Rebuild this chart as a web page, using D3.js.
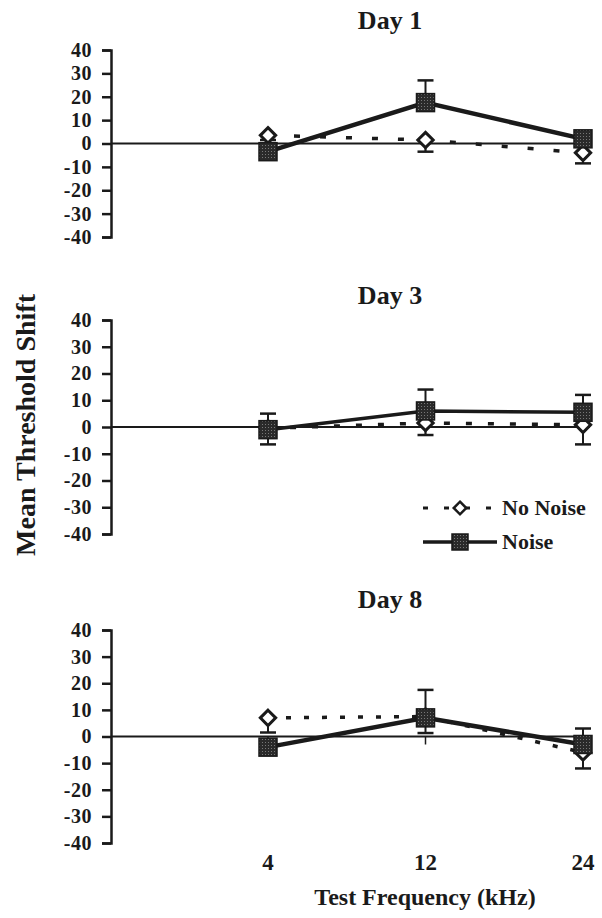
<!DOCTYPE html>
<html>
<head>
<meta charset="utf-8">
<script src="https://cdn.jsdelivr.net/npm/d3@7"></script>
<style>
  body { margin: 0; background: #fff; }
  text { font-family: "Liberation Serif", "Times New Roman", serif; font-weight: bold; fill: #1a1a1a; }
</style>
</head>
<body>
<svg width="602" height="918"></svg>
<script>
var width = 602;
var height = 918;

// data
var days = ["Day 1", "Day 3", "Day 8"];
var freqs = ["4", "12", "24"];
var yTicks = [40, 30, 20, 10, 0, -10, -20, -30, -40];

var noNoise    = [[3.5, 1.5, -4], [-0.5, 1.5, 0.8], [7, 7.5, -6]];
var noNoiseErr = [[2, 5, 4.5], [6, 4.5, 7.3], [5.5, 6.2, 6]];
var noise      = [[-3.5, 17.5, 2], [-1, 6, 5.5], [-4, 7, -3]];
var noiseErr   = [[2, 9.5, 2], [6, 8, 6.5], [2, 10.5, 6]];

// panel layout (top/bottom of the -40..40 range, title baseline, dash pattern)
var panels = [
    {top: 50,  bottom: 237, title: 29,  dash: "6,20"},
    {top: 320, bottom: 534, title: 304, dash: "6,16"},
    {top: 630, bottom: 843, title: 608, dash: "5,13"}
];

var axisX = 111;

var svg = d3.select("svg")
    .attr("width", width)
    .attr("height", height);

var defs = svg.append("defs");
var pat = defs.append("pattern")
    .attr("id", "stipple")
    .attr("width", 3).attr("height", 3)
    .attr("patternUnits", "userSpaceOnUse");
pat.append("rect").attr("width", 3).attr("height", 3).attr("fill", "#2a2a2a");
pat.append("rect").attr("x", 1).attr("y", 1).attr("width", 1).attr("height", 1).attr("fill", "#777");

var x = d3.scalePoint()
    .domain(freqs)
    .range([268, 583]);

var diamond = d3.symbol().type(d3.symbolDiamond2).size(150);

days.forEach(function(day, i){
    var p = panels[i];
    var y = d3.scaleLinear().domain([-40, 40]).range([p.bottom, p.top]);
    var g = svg.append("g").classed("panel", true);

    g.append("text")
        .attr("x", 390)
        .attr("y", p.title)
        .style("font-size", "26px")
        .style("text-anchor", "middle")
        .text(day);

    var axis = d3.axisLeft(y)
        .tickValues(yTicks)
        .tickSize(9)
        .tickPadding(10)
        .tickFormat(d => String(d));

    var ax = g.append("g")
        .attr("transform", `translate(${axisX},0)`)
        .call(axis);
    ax.select(".domain").attr("stroke", "#1a1a1a").attr("stroke-width", 2.5);
    ax.selectAll(".tick line").attr("stroke", "#1a1a1a").attr("stroke-width", 2.5);
    ax.selectAll(".tick text")
        .style("font-size", "20px")
        .style("font-family", "Liberation Serif, serif")
        .style("font-weight", "bold")
        .style("letter-spacing", "0.5px")
        .attr("fill", "#1a1a1a");

    // zero line and small category ticks
    g.append("line")
        .attr("x1", axisX).attr("x2", 590)
        .attr("y1", y(0)).attr("y2", y(0))
        .attr("stroke", "#1a1a1a").attr("stroke-width", 1.8);
    g.selectAll(".xtick")
        .data(freqs)
        .enter()
        .append("line")
            .classed("xtick", true)
            .attr("x1", d => x(d)).attr("x2", d => x(d))
            .attr("y1", y(0)).attr("y2", y(0) + 8)
            .attr("stroke", "#1a1a1a").attr("stroke-width", 1.5);

    var nn = freqs.map((f, j) => ({f: f, v: noNoise[i][j], e: noNoiseErr[i][j]}));
    var ns = freqs.map((f, j) => ({f: f, v: noise[i][j], e: noiseErr[i][j]}));

    var line = d3.line().x(d => x(d.f)).y(d => y(d.v));

    // No Noise: dashed line, lower error bars, open diamonds
    g.append("path")
        .datum(nn)
        .attr("d", line)
        .attr("fill", "none")
        .attr("stroke", "#1a1a1a")
        .attr("stroke-width", 3.5)
        .attr("stroke-dasharray", p.dash);

    var eb1 = g.selectAll(".errNN").data(nn).enter().append("g").classed("errNN", true);
    eb1.append("line")
        .attr("x1", d => x(d.f)).attr("x2", d => x(d.f))
        .attr("y1", d => y(d.v)).attr("y2", d => y(d.v - d.e))
        .attr("stroke", "#1a1a1a").attr("stroke-width", 2);
    eb1.append("line")
        .attr("x1", d => x(d.f) - 8).attr("x2", d => x(d.f) + 8)
        .attr("y1", d => y(d.v - d.e)).attr("y2", d => y(d.v - d.e))
        .attr("stroke", "#1a1a1a").attr("stroke-width", 2.5);

    g.selectAll(".dia").data(nn).enter().append("path")
        .classed("dia", true)
        .attr("transform", d => `translate(${x(d.f)},${y(d.v)})`)
        .attr("d", diamond)
        .attr("fill", "#fff")
        .attr("stroke", "#1a1a1a")
        .attr("stroke-width", 3);

    // Noise: solid line, upper error bars, filled squares
    g.append("path")
        .datum(ns)
        .attr("d", line)
        .attr("fill", "none")
        .attr("stroke", "#1a1a1a")
        .attr("stroke-width", i === 1 ? 3.5 : 4.5);

    var eb2 = g.selectAll(".errN").data(ns).enter().append("g").classed("errN", true);
    eb2.append("line")
        .attr("x1", d => x(d.f)).attr("x2", d => x(d.f))
        .attr("y1", d => y(d.v)).attr("y2", d => y(d.v + d.e))
        .attr("stroke", "#1a1a1a").attr("stroke-width", 2);
    eb2.append("line")
        .attr("x1", d => x(d.f) - 8).attr("x2", d => x(d.f) + 8)
        .attr("y1", d => y(d.v + d.e)).attr("y2", d => y(d.v + d.e))
        .attr("stroke", "#1a1a1a").attr("stroke-width", 2.5);

    g.selectAll(".sq").data(ns).enter().append("rect")
        .classed("sq", true)
        .attr("x", d => x(d.f) - 9)
        .attr("y", d => y(d.v) - 9)
        .attr("width", 18).attr("height", 18)
        .attr("fill", "url(#stipple)")
        .attr("stroke", "#1a1a1a")
        .attr("stroke-width", 1.5);
});

// x axis labels under the last panel
svg.selectAll(".xlab")
    .data(freqs)
    .enter()
    .append("text")
        .classed("xlab", true)
        .attr("x", d => x(d))
        .attr("y", 870)
        .style("font-size", "23px")
        .style("text-anchor", "middle")
        .text(d => d);

svg.append("text")
    .attr("x", 425)
    .attr("y", 905)
    .style("font-size", "24px")
    .style("text-anchor", "middle")
    .text("Test Frequency (kHz)");

svg.append("text")
    .attr("transform", "translate(35,425) rotate(-90)")
    .style("font-size", "28px")
    .style("text-anchor", "middle")
    .text("Mean Threshold Shift");

// legend inside the Day 3 panel
var legend = [
    {label: "No Noise", y: 508, kind: "dia"},
    {label: "Noise", y: 542, kind: "sq"}
];
var lg = svg.append("g").classed("legend", true);
legend.forEach(function(l){
    lg.append("line")
        .attr("x1", 423).attr("x2", 497)
        .attr("y1", l.y).attr("y2", l.y)
        .attr("stroke", "#1a1a1a")
        .attr("stroke-width", l.kind === "dia" ? 3 : 3.5)
        .attr("stroke-dasharray", l.kind === "dia" ? "5,16" : null);
    if (l.kind === "dia") {
        lg.append("path")
            .attr("transform", `translate(460,${l.y})`)
            .attr("d", d3.symbol().type(d3.symbolDiamond2).size(100))
            .attr("fill", "#fff").attr("stroke", "#1a1a1a").attr("stroke-width", 2.5);
    } else {
        lg.append("rect")
            .attr("x", 452).attr("y", l.y - 8)
            .attr("width", 16).attr("height", 16)
            .attr("fill", "url(#stipple)").attr("stroke", "#1a1a1a").attr("stroke-width", 1.5);
    }
    lg.append("text")
        .attr("x", 502)
        .attr("y", l.y + 7)
        .style("font-size", "22px")
        .text(l.label);
});
</script>
</body>
</html>
